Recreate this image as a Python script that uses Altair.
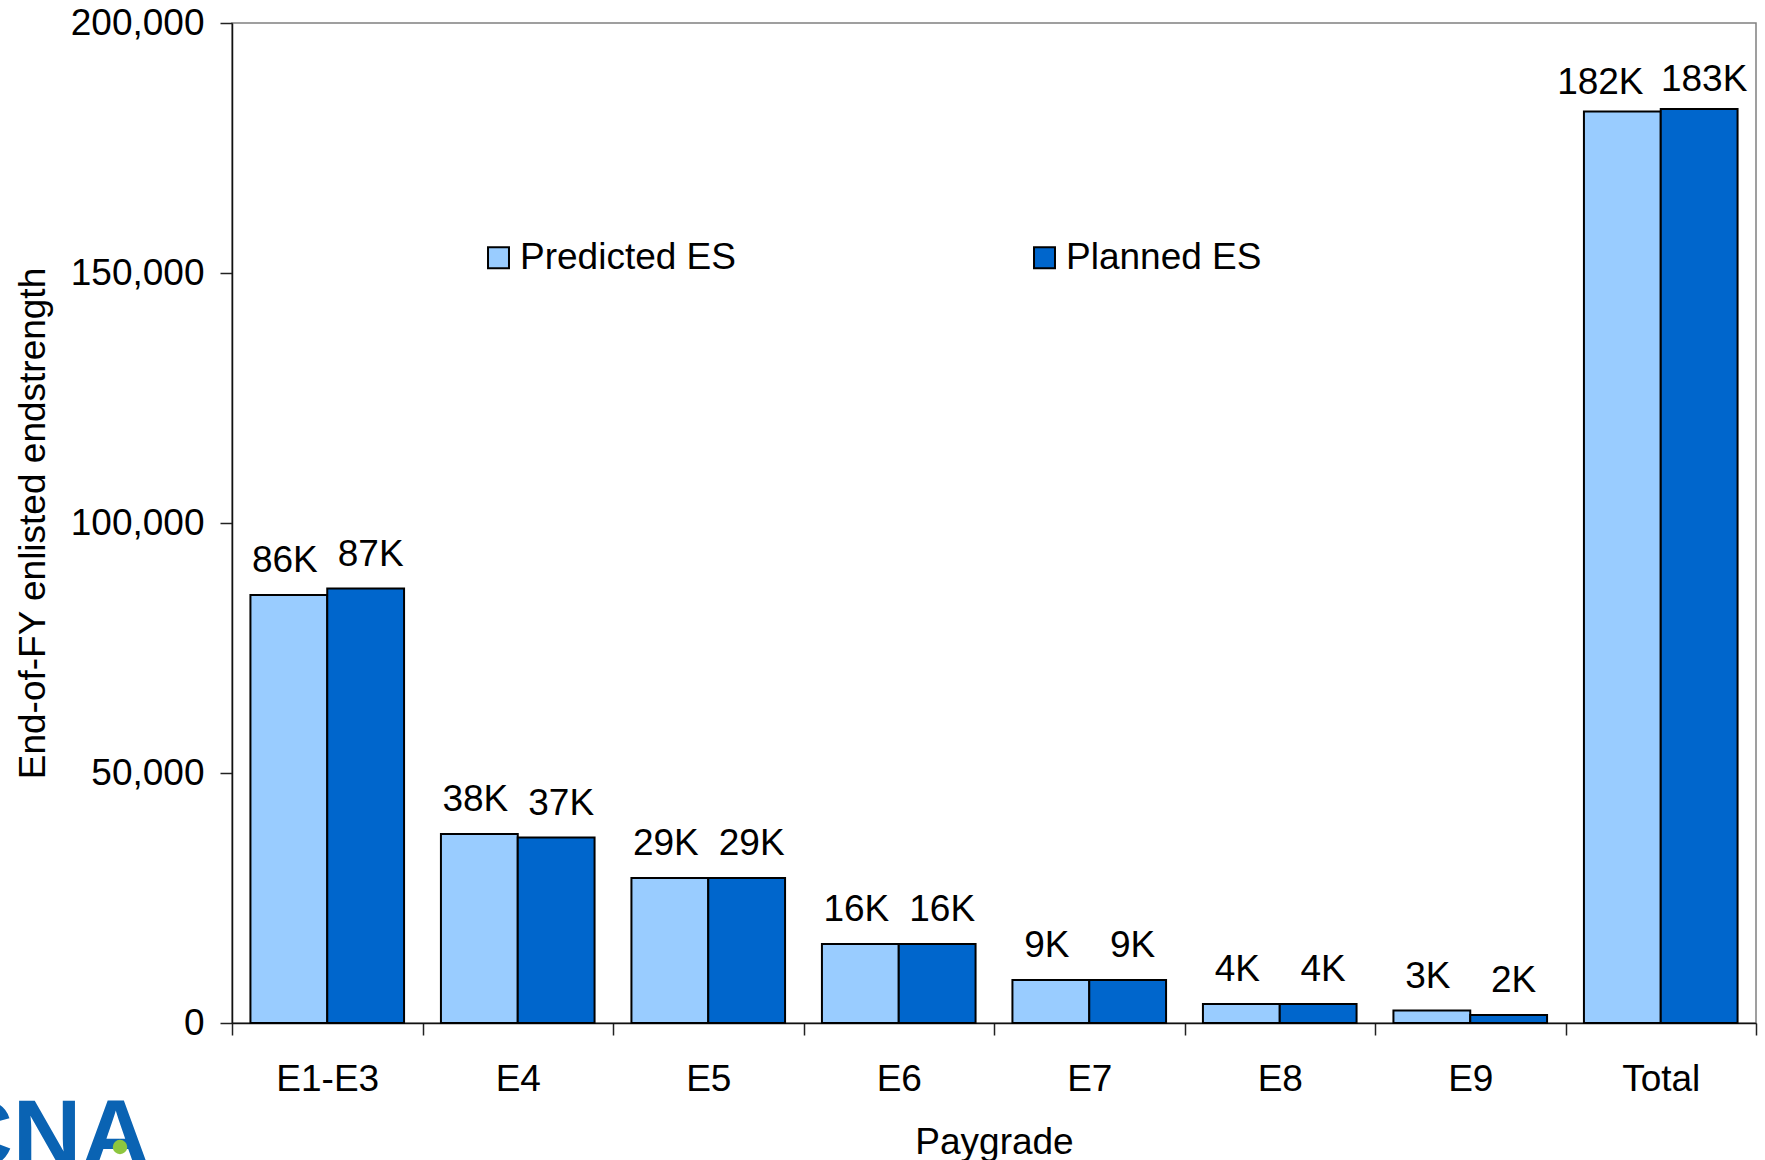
import altair as alt
import pandas as pd

# End-of-FY enlisted endstrength by paygrade, predicted vs planned
paygrades = ["E1-E3", "E4", "E5", "E6", "E7", "E8", "E9", "Total"]
series = ["Predicted ES", "Planned ES"]
predicted = [85600, 37800, 29000, 15800, 8600, 3800, 2500, 182300]
planned = [86900, 37100, 29000, 15800, 8600, 3800, 1600, 182800]
colors = ["#99CCFF", "#0066CC"]
y_ticks = [0, 50000, 100000, 150000, 200000]

FONT = "Liberation Sans"
FS = 37

rows = []
for name, vals in zip(series, [predicted, planned]):
    for g, v in zip(paygrades, vals):
        rows.append({"Paygrade": g, "Series": name, "Value": v,
                     "Label": f"{int(v / 1000 + 0.5)}K"})
df = pd.DataFrame(rows)

x_enc = alt.X(
    "Paygrade:N", sort=paygrades,
    scale=alt.Scale(paddingInner=0, paddingOuter=0),
    axis=alt.Axis(title="Paygrade", labelAngle=0, tickBand="extent",
                  tickSize=12, tickColor="#222", tickWidth=1.5,
                  domainColor="#111", domainWidth=1.5,
                  labelFont=FONT, labelFontSize=FS, labelColor="black",
                  labelPadding=26, titleFont=FONT, titleFontSize=FS,
                  titleFontWeight="normal", titleColor="black", titlePadding=27),
)
xo_enc = alt.XOffset("Series:N", sort=series,
                     scale=alt.Scale(paddingInner=0, paddingOuter=0.24))
y_enc = alt.Y(
    "Value:Q",
    scale=alt.Scale(domain=[0, 200000], nice=False),
    axis=alt.Axis(title="End-of-FY enlisted endstrength", values=y_ticks,
                  format=",d", grid=False, tickSize=12, tickColor="#222",
                  tickWidth=1.5, domainColor="#111", domainWidth=1.5,
                  labelFont=FONT, labelFontSize=FS, labelColor="black",
                  labelPadding=16, titleFont=FONT, titleFontSize=FS,
                  titleFontWeight="normal", titleColor="black", titlePadding=18),
)

base = alt.Chart(df)

bars = base.mark_bar(stroke="black", strokeWidth=2).encode(
    x=x_enc,
    xOffset=xo_enc,
    y=y_enc,
    color=alt.Color(
        "Series:N", sort=series,
        scale=alt.Scale(domain=series, range=colors),
        legend=alt.Legend(
            title=None, orient="none", legendX=248, legendY=216,
            direction="horizontal", columns=2, columnPadding=290,
            symbolType="square", symbolSize=440, symbolStrokeColor="black",
            symbolStrokeWidth=2, symbolOpacity=1,
            labelFont=FONT, labelFontSize=FS, labelColor="black",
            labelOffset=3, labelLimit=400, padding=0,
        ),
    ),
)


def value_labels(series_name, is_total, dx, dy):
    """Value labels above one series' bars; the two labels of a pair
    are pushed apart so they do not collide."""
    cond = f"datum.Series == '{series_name}' && " + (
        "datum.Paygrade == 'Total'" if is_total else "datum.Paygrade != 'Total'"
    )
    return base.transform_filter(cond).mark_text(
        baseline="alphabetic", dx=dx, dy=dy, font=FONT, fontSize=FS,
        color="black"
    ).encode(x=x_enc, xOffset=xo_enc, y=y_enc, text="Label:N")


labels = [
    value_labels("Predicted ES", False, -4, -23),
    value_labels("Planned ES", False, 5, -23),
    value_labels("Predicted ES", True, -22, -18),
    value_labels("Planned ES", True, 5, -18),
]

# organisation logo in the lower-left corner
logo_df = pd.DataFrame({"t": ["CNA"]})
logo_text = alt.Chart(logo_df).mark_text(
    font=FONT, fontSize=95, fontWeight="bold", color="#0a63b3",
    align="right", baseline="alphabetic"
).encode(x=alt.value(-82), y=alt.value(1143), text="t:N")
logo_dot = alt.Chart(logo_df).mark_point(
    filled=True, shape="circle", size=210, color="#8dc63f", opacity=1
).encode(x=alt.value(-112), y=alt.value(1124))

chart = (
    alt.layer(bars, *labels, logo_text, logo_dot)
    .properties(
        width=1524, height=1000,
        autosize=alt.AutoSizeParams(type="none"),
        padding={"left": 232, "top": 23, "right": 9, "bottom": 137},
    )
    .configure(font=FONT)
    .configure_view(stroke="#808080", strokeWidth=1.5)
)

chart.save("out.html", embed_options={"renderer": "svg", "actions": False})
